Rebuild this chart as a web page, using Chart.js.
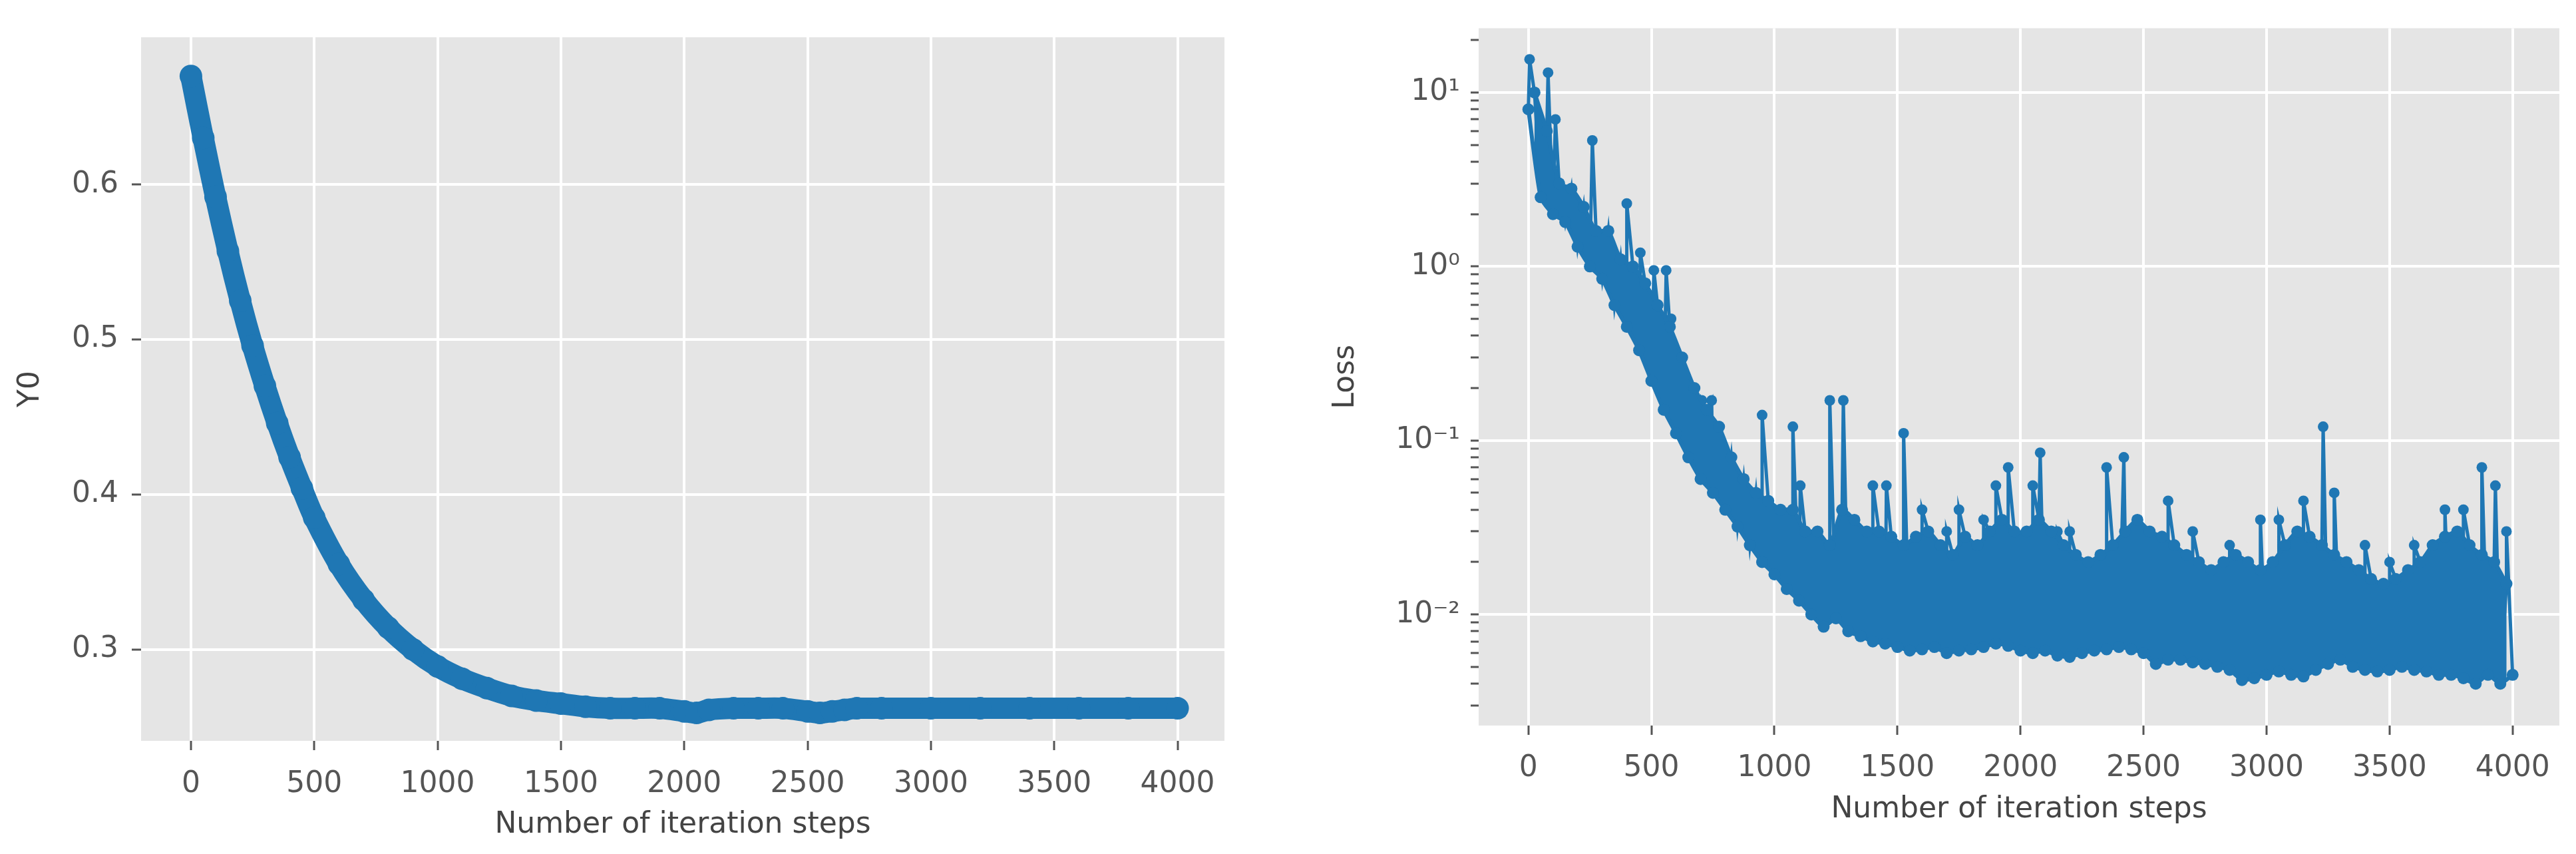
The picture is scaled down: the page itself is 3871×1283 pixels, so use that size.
<!DOCTYPE html>
<html><head><meta charset="utf-8">
<script src="https://cdn.jsdelivr.net/npm/chart.js@4"></script>
<style>html,body{margin:0;padding:0;background:#fff;width:3871px;height:1283px;overflow:hidden}
canvas{position:absolute;top:0}</style></head>
<body>
<canvas id="c1" width="1900" height="1283" style="left:0;width:1900px;height:1283px"></canvas>
<canvas id="c2" width="1971" height="1283" style="left:1900px;width:1971px;height:1283px"></canvas>
<script>
// ---- data ----
const y0Steps = [0,50,100,150,200,250,300,350,400,450,500,600,700,800,900,1000,1100,1200,1300,1400,1500,1600,1700,1800,1900,2000,2050,2100,2200,2300,2400,2500,2550,2600,2650,2700,2800,3000,3200,3400,3600,3800,4000];
const y0Values = [0.670,0.630,0.592,0.557,0.525,0.496,0.470,0.446,0.424,0.404,0.385,0.355,0.332,0.314,0.300,0.289,0.281,0.275,0.270,0.267,0.265,0.263,0.262,0.262,0.262,0.260,0.259,0.261,0.262,0.262,0.262,0.260,0.259,0.260,0.261,0.262,0.262,0.262,0.262,0.262,0.262,0.262,0.262];
const lossLow = [8,2.5,2.0,1.8,1.3,1.0,0.85,0.6,0.45,0.33,0.22,0.15,0.11,0.08,0.06,0.05,0.04,0.032,0.025,0.02,0.017,0.014,0.012,0.01,0.0085,0.0095,0.008,0.0075,0.007,0.0068,0.0065,
 0.0062,0.0063,0.0065,0.006,0.0062,0.0063,0.0065,0.0068,0.0066,0.0062,
 0.006,0.0062,0.0058,0.0057,0.006,0.0062,0.0063,0.0065,0.0063,0.006,
 0.0052,0.0055,0.0055,0.0053,0.0052,0.005,0.0048,0.0042,0.0043,0.0045,
 0.0047,0.0045,0.0044,0.0048,0.0052,0.0055,0.005,0.0048,0.0047,0.0048,
 0.005,0.0048,0.0047,0.0045,0.0045,0.0043,0.004,0.0045,0.004,0.0045];
const lossHigh = [10,6,3,2.8,2.2,1.6,1.6,1.1,1.0,0.8,0.6,0.45,0.3,0.2,0.15,0.12,0.08,0.06,0.05,0.045,0.04,0.04,0.03,0.03,0.025,0.04,0.035,0.03,0.03,0.028,
 0.025,0.028,0.03,0.025,0.022,0.028,0.025,0.03,0.035,0.03,
 0.03,0.035,0.03,0.025,0.022,0.02,0.022,0.025,0.03,0.035,
 0.03,0.028,0.025,0.022,0.02,0.018,0.02,0.022,0.02,0.018,
 0.02,0.025,0.03,0.028,0.025,0.022,0.02,0.018,0.016,0.015,
 0.016,0.018,0.02,0.025,0.028,0.03,0.025,0.022,0.02,0.015];
const spikeSteps = [5,80,110,260,400,455,510,560,580,705,745,950,1075,1105,1225,1280,1400,1455,1525,1600,1700,1750,1850,1900,1950,2050,2080,2150,2200,2350,2420,2600,2700,2850,2975,3050,3150,3230,3275,3400,3500,3600,3725,3800,3875,3930,3975];
const spikeValues = [15.5,13,7,5.3,2.3,1.2,0.95,0.95,0.5,0.17,0.17,0.14,0.12,0.055,0.17,0.17,0.055,0.055,0.11,0.04,0.03,0.04,0.035,0.055,0.07,0.055,0.085,0.03,0.03,0.07,0.08,0.045,0.03,0.025,0.035,0.035,0.045,0.12,0.05,0.025,0.02,0.025,0.04,0.04,0.07,0.055,0.03];
const xTicks = [0,500,1000,1500,2000,2500,3000,3500,4000];
const y0Ticks = [0.3,0.4,0.5,0.6];
const lossDecades = [0.01,0.1,1,10];
const lossMinorTicks = [0.003,0.004,0.005,0.006,0.007,0.008,0.009,0.02,0.03,0.04,0.05,0.06,0.07,0.08,0.09,0.2,0.3,0.4,0.5,0.6,0.7,0.8,0.9,2,3,4,5,6,7,8,9,20];
const LOW_STEP = 50;

const blue = '#1f77b4';
const font = {family:'DejaVu Sans', size:44};
const bgPlugin = {id:'bg', beforeDraw(c){const a=c.chartArea,x=c.ctx;x.save();x.fillStyle='#e5e5e5';x.fillRect(a.left,a.top,a.right-a.left,a.bottom-a.top);x.restore();}};

function xScale(labelPad, titlePadBottom, height){
  return {type:'linear', min:-202, max:4190,
    afterBuildTicks:s=>{s.ticks=xTicks.map(v=>({value:v}));},
    afterFit:s=>{s.height=height;},
    grid:{color:'#ffffff', lineWidth:4, tickColor:'#555', tickWidth:3, tickLength:14, drawTicks:true},
    border:{display:false},
    ticks:{font, color:'#555', padding:labelPad, maxRotation:0, autoSkip:false, callback:v=>String(v)},
    title:{display:true, text:'Number of iteration steps', font, color:'#444', padding:{top:0,bottom:titlePadBottom}}};
}

const y0Data = y0Steps.map((s,i)=>({x:s,y:y0Values[i]}));
new Chart(document.getElementById('c1'),{
  type:'scatter',
  data:{datasets:[{data:y0Data, showLine:true, borderColor:blue, backgroundColor:blue, borderWidth:32, pointRadius:17, pointBorderWidth:0, tension:0.3}]},
  options:{responsive:false, animation:false, devicePixelRatio:1,
    layout:{padding:{top:56,right:60,left:0,bottom:0}},
    plugins:{legend:{display:false},tooltip:{enabled:false}},
    scales:{
      x:xScale(25,17,170),
      y:{type:'linear', min:0.241, max:0.695,
        afterBuildTicks:s=>{s.ticks=y0Ticks.map(v=>({value:v}));},
        afterFit:s=>{s.width=212;},
        grid:{color:'#ffffff', lineWidth:4, tickColor:'#555', tickWidth:3, tickLength:14},
        border:{display:false},
        ticks:{font, color:'#555', padding:20, callback:v=>v.toFixed(1)},
        title:{display:true, text:'Y0', font, color:'#444', padding:{top:20,bottom:0}}}
    }},
  plugins:[bgPlugin]});

const highData = lossHigh.map((v,i)=>({x:i*LOW_STEP+LOW_STEP/2,y:v}));
const lowData = lossLow.map((v,i)=>({x:i*LOW_STEP,y:v}));
let lossData = lowData.concat(highData, spikeSteps.map((s,i)=>({x:s,y:spikeValues[i]})));
lossData.sort((a,b)=>a.x-b.x);

const sup = {'-2':'10⁻²','-1':'10⁻¹','0':'10⁰','1':'10¹'};
const allLogTicks = lossDecades.concat(lossMinorTicks).sort((a,b)=>a-b);
new Chart(document.getElementById('c2'),{
  type:'scatter',
  data:{datasets:[
    {data:highData, showLine:true, borderColor:blue, backgroundColor:blue, borderWidth:6, pointRadius:9, pointBorderWidth:0, tension:0.2},
    {data:lowData, showLine:true, borderColor:blue, backgroundColor:blue, borderWidth:6, pointRadius:9, pointBorderWidth:0, tension:0.2, fill:'-1'},
    {data:lossData, showLine:true, borderColor:blue, backgroundColor:blue, borderWidth:5, pointRadius:8, pointBorderWidth:0}
  ]},
  options:{responsive:false, animation:false, devicePixelRatio:1,
    layout:{padding:{top:29,right:25,left:0,bottom:0}},
    plugins:{legend:{display:false},tooltip:{enabled:false},filler:{propagate:false}},
    scales:{
      x:xScale(24,40,193),
      y:{type:'logarithmic', min:0.0023, max:23.4,
        afterBuildTicks:s=>{s.ticks=allLogTicks.map(v=>({value:v, major:lossDecades.includes(v)}));},
        afterFit:s=>{s.width=322;},
        grid:{color:c=>(c.tick&&c.tick.major)?'#ffffff':'rgba(0,0,0,0)', lineWidth:4, tickColor:'#555', tickWidth:3, tickLength:12},
        border:{display:false},
        ticks:{font, color:'#555', padding:16, autoSkip:false, callback:function(v){const l=Math.log10(v);return Math.abs(l-Math.round(l))<1e-6?sup[String(Math.round(l))]:'';}},
        title:{display:true, text:'Loss', font, color:'#444', padding:{top:96,bottom:0}}}
    }},
  plugins:[bgPlugin]});
</script>
</body></html>
